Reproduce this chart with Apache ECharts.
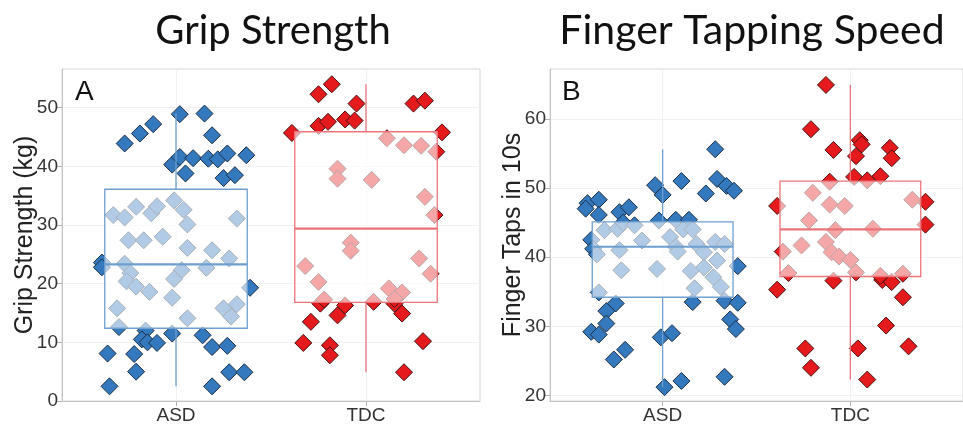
<!DOCTYPE html>
<html>
<head>
<meta charset="utf-8">
<script src="https://cdn.jsdelivr.net/npm/echarts@6/dist/echarts.min.js"></script>
<style>
html, body { margin: 0; padding: 0; background: #fff; }
#main { width: 963px; height: 432px; }
</style>
</head>
<body>
<div id="main"></div>
<script>
var groups = ['ASD', 'TDC'];

// [jitter offset from group centre, value]
var gripAsd = [
	[0.02, 48.9], [0.15, 49.0], [-0.12, 47.2], [-0.19, 45.6], [-0.27, 43.9], [0.19, 45.3],
	[-0.02, 40.3], [0.02, 41.6], [0.09, 41.4], [0.17, 41.3], [0.22, 41.2], [0.27, 42.2],
	[0.37, 41.9], [0.05, 38.8], [0.25, 38.0], [0.31, 38.5], [-0.39, 23.6], [-0.39, 22.8],
	[0.39, 19.3], [-0.30, 12.6], [-0.16, 12.0], [-0.18, 10.5], [-0.15, 10.0], [-0.10, 9.9],
	[-0.02, 11.5], [0.14, 11.2], [0.19, 9.2], [0.27, 9.4], [-0.36, 8.1], [-0.22, 8.0],
	[-0.21, 5.0], [0.28, 4.9], [0.36, 4.9], [-0.35, 2.5], [0.19, 2.5],
	[-0.33, 31.7], [-0.27, 31.3], [-0.21, 33.1], [-0.13, 32.0], [-0.10, 33.2], [-0.01, 34.2],
	[0.04, 32.6], [0.06, 30.1], [0.32, 31.1], [-0.25, 27.4], [-0.17, 27.4], [-0.07, 28.0],
	[0.06, 26.1], [0.19, 25.7], [0.28, 24.3], [-0.27, 23.4], [-0.24, 21.8], [-0.26, 20.4],
	[-0.21, 19.5], [-0.14, 18.6], [0.03, 22.3], [-0.01, 20.8], [0.16, 22.7], [-0.02, 17.6],
	[-0.31, 15.8], [0.06, 14.1], [0.25, 15.8], [0.29, 14.4], [0.32, 16.5]
];
var gripTdc = [
	[-0.18, 54.0], [-0.25, 52.3], [-0.05, 50.7], [0.25, 50.7], [0.31, 51.2], [-0.25, 46.9],
	[-0.20, 47.6], [-0.11, 48.0], [-0.06, 47.8], [-0.39, 45.7], [0.40, 45.8], [-0.24, 16.6],
	[-0.11, 16.3], [0.04, 16.9], [0.15, 16.6], [-0.15, 14.6], [0.19, 14.9], [-0.29, 13.5],
	[-0.33, 9.9], [-0.19, 9.5], [-0.19, 7.8], [0.30, 10.2], [0.20, 4.9],
	[0.11, 44.8], [0.20, 43.6], [0.29, 43.5], [0.37, 42.5], [-0.15, 39.6], [-0.15, 37.9],
	[0.03, 37.7], [0.31, 34.8], [0.36, 31.7], [-0.08, 27.0], [-0.08, 25.6], [-0.32, 23.0],
	[-0.25, 20.3], [0.28, 24.3], [0.34, 21.7], [0.12, 19.2], [0.19, 18.5], [-0.22, 17.3],
	[0.15, 17.4]
];
var tapAsd = [
	[-0.40, 47.8], [-0.41, 47.0], [-0.34, 48.3], [-0.34, 46.1], [-0.23, 46.5], [-0.18, 47.2],
	[-0.04, 50.4], [0.00, 49.0], [0.10, 51.0], [0.23, 49.2], [0.28, 55.6], [0.29, 51.3],
	[0.34, 50.3], [0.38, 49.6], [-0.02, 45.3], [0.07, 45.4], [0.14, 45.4], [-0.38, 42.5],
	[-0.37, 41.2], [0.40, 38.7], [-0.34, 34.9], [-0.25, 33.3], [-0.30, 32.2], [-0.30, 30.4],
	[-0.38, 29.2], [-0.34, 28.8], [-0.26, 25.2], [-0.20, 26.6], [-0.01, 28.4], [0.05, 29.0],
	[0.01, 21.2], [0.10, 22.1], [0.33, 22.7], [0.16, 33.5], [0.33, 33.7], [0.40, 33.4],
	[0.36, 31.0], [0.39, 29.6],
	[-0.31, 43.9], [-0.24, 44.1], [-0.21, 45.0], [-0.15, 44.6], [-0.23, 41.0], [-0.35, 40.4],
	[-0.11, 42.4], [-0.22, 38.1], [-0.03, 38.3], [0.04, 42.9], [0.07, 41.5], [0.08, 40.8],
	[0.11, 44.0], [0.16, 44.0], [0.18, 41.9], [0.22, 40.7], [0.22, 38.5], [0.15, 38.0],
	[0.27, 37.1], [0.29, 39.5], [0.28, 42.2], [0.33, 41.9], [0.17, 35.5], [0.31, 35.7]
];
var tapTdc = [
	[-0.13, 64.9], [-0.21, 58.5], [-0.09, 55.5], [0.05, 56.9], [0.06, 56.3], [0.03, 54.6],
	[0.21, 55.8], [0.22, 54.3], [0.02, 51.6], [0.09, 51.1], [0.16, 51.7], [-0.11, 50.9],
	[-0.39, 47.4], [0.40, 48.0], [0.40, 44.7], [-0.39, 35.3], [-0.09, 36.6], [0.17, 36.7],
	[0.22, 36.4], [0.28, 34.2], [0.19, 30.1], [-0.24, 26.8], [-0.21, 24.0], [0.04, 26.8],
	[0.09, 22.3], [0.31, 27.1],
	[-0.20, 49.3], [-0.11, 47.6], [-0.03, 47.4], [0.33, 48.3], [-0.22, 45.3], [-0.08, 43.9],
	[0.12, 44.1], [-0.26, 41.7], [-0.13, 42.2], [-0.10, 40.7], [-0.06, 40.1], [0.00, 39.6],
	[-0.36, 40.8], [-0.33, 37.7], [0.03, 37.8], [0.16, 37.3], [0.28, 37.6]
];

// whisker low, Q1, median, Q3, whisker high
var gripBox = [[2.5, 12.4, 23.3, 36.1, 49.0], [4.9, 16.8, 29.4, 45.9, 54.0]];
var tapBox = [[21.2, 34.2, 41.5, 45.1, 55.6], [22.3, 37.2, 44.0, 51.0, 64.9]];

var gripTicks = [0, 10, 20, 30, 40, 50];
var tapTicks = [20, 30, 40, 50, 60];

var fillColors = ['#3478bd', '#e41a1c'];
var edgeColors = ['#1c2f44', '#4a1212'];
var boxColors = ['#6e9fd0', '#ea7479'];

var chart = echarts.init(document.getElementById('main'));

function toPoints(arr, g) {
	return arr.map(function(p) {
		return [g + p[0], p[1]];
	});
}

function boxRender(params, api) {
	var g = api.value(0);
	var c = boxColors[g - 1];
	var hw = 0.375;
	var tl = api.coord([g - hw, api.value(4)]);
	var br = api.coord([g + hw, api.value(2)]);
	var m0 = api.coord([g - hw, api.value(3)]);
	var m1 = api.coord([g + hw, api.value(3)]);
	var lo = api.coord([g, api.value(1)]);
	var hi = api.coord([g, api.value(5)]);
	return {
		type : 'group',
		children : [ {
			type : 'line',
			shape : { x1 : hi[0], y1 : hi[1], x2 : hi[0], y2 : tl[1] },
			style : { stroke : c, lineWidth : 1.3 }
		}, {
			type : 'line',
			shape : { x1 : lo[0], y1 : br[1], x2 : lo[0], y2 : lo[1] },
			style : { stroke : c, lineWidth : 1.3 }
		}, {
			type : 'rect',
			shape : { x : tl[0], y : tl[1], width : br[0] - tl[0], height : br[1] - tl[1] },
			style : { fill : 'rgba(255,255,255,0.62)', stroke : c, lineWidth : 1.3 }
		}, {
			type : 'line',
			shape : { x1 : m0[0], y1 : m0[1], x2 : m1[0], y2 : m1[1] },
			style : { stroke : c, lineWidth : 2.2 }
		} ]
	};
}

function xAxisFor(idx) {
	return {
		type : 'value',
		gridIndex : idx,
		min : 0.4,
		max : 2.6,
		axisLine : { show : true, lineStyle : { color : '#c4c4c4' } },
		axisTick : { show : true, customValues : [1, 2], length : 5, lineStyle : { color : '#b0b0b0' } },
		axisLabel : {
			customValues : [1, 2],
			formatter : function(v) { return groups[Math.round(v) - 1]; },
			color : '#333',
			fontSize : 19,
			fontFamily : 'Liberation Sans',
			margin : 5
		},
		splitLine : { show : true, lineStyle : { color : '#f1f1f1' } }
	};
}

function yAxisFor(idx, min, max, ticks, name) {
	return {
		type : 'value',
		gridIndex : idx,
		min : min,
		max : max,
		name : name,
		nameLocation : 'middle',
		nameGap : 24,
		nameMoveOverlap : false,
		nameTextStyle : { color : '#222', fontSize : 25, fontFamily : 'Liberation Sans' },
		axisLine : { show : true, lineStyle : { color : '#c4c4c4' } },
		axisTick : { show : true, customValues : ticks, length : 5, lineStyle : { color : '#b0b0b0' } },
		axisLabel : {
			customValues : ticks,
			color : '#333',
			fontSize : 19,
			fontFamily : 'Liberation Sans',
			margin : 4
		},
		splitLine : { show : true, lineStyle : { color : '#f1f1f1' } }
	};
}

function scatterFor(idx, data, g) {
	return {
		type : 'scatter',
		xAxisIndex : idx,
		yAxisIndex : idx,
		symbol : 'diamond',
		symbolSize : 17,
		z : 2,
		data : toPoints(data, g),
		itemStyle : { color : fillColors[g - 1], borderColor : edgeColors[g - 1], borderWidth : 1, opacity : 1 },
		emphasis : { disabled : true }
	};
}

function boxesFor(idx, boxes) {
	return {
		type : 'custom',
		xAxisIndex : idx,
		yAxisIndex : idx,
		z : 5,
		renderItem : boxRender,
		encode : { x : 0, y : [1, 2, 3, 4, 5] },
		data : boxes.map(function(b, i) { return [i + 1].concat(b); })
	};
}

var option = {
	animation : false,
	backgroundColor : '#fff',
	grid : [
		{ left : 62, top : 69, width : 418, height : 332, show : true, borderColor : '#d6d6d6', borderWidth : 1 },
		{ left : 550, top : 69, width : 418, height : 332, show : true, borderColor : '#d6d6d6', borderWidth : 1 }
	],
	xAxis : [ xAxisFor(0), xAxisFor(1) ],
	yAxis : [
		yAxisFor(0, 0, 56.6, gripTicks, 'Grip Strength (kg)'),
		yAxisFor(1, 19.2, 67.2, tapTicks, 'Finger Taps in 10s')
	],
	graphic : [
		{ type : 'text', x : 273, y : 31, style : { text : 'Grip Strength', font : '40px Lato', fill : '#111', align : 'center', verticalAlign : 'middle' } },
		{ type : 'text', x : 752, y : 31, style : { text : 'Finger Tapping Speed', font : '41px Lato', fill : '#111', align : 'center', verticalAlign : 'middle' } },
		{ type : 'text', x : 75, y : 92, style : { text : 'A', font : '28px Liberation Sans', fill : '#111', align : 'left', verticalAlign : 'middle' } },
		{ type : 'text', x : 562, y : 92, style : { text : 'B', font : '28px Liberation Sans', fill : '#111', align : 'left', verticalAlign : 'middle' } }
	],
	series : [
		scatterFor(0, gripAsd, 1),
		scatterFor(0, gripTdc, 2),
		boxesFor(0, gripBox),
		scatterFor(1, tapAsd, 1),
		scatterFor(1, tapTdc, 2),
		boxesFor(1, tapBox)
	]
};

chart.setOption(option);
</script>
</body>
</html>
